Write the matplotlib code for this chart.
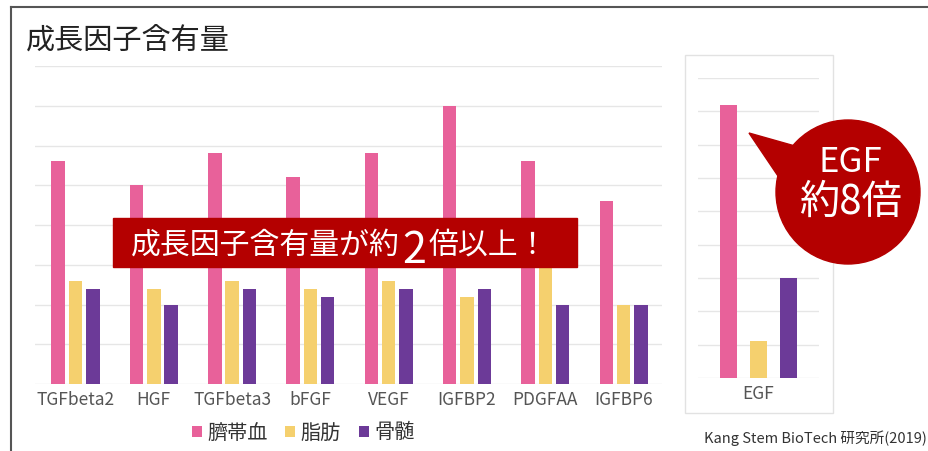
import matplotlib
matplotlib.use("Agg")
import matplotlib.pyplot as plt
import numpy as np
from matplotlib.patches import Rectangle, Circle, Polygon

plt.rcParams['font.family'] = ['Noto Sans CJK JP', 'DejaVu Sans']

factors = ['TGFbeta2', 'HGF', 'TGFbeta3', 'bFGF', 'VEGF', 'IGFBP2', 'PDGFAA', 'IGFBP6']
cord_blood = [5.6, 5.0, 5.8, 5.2, 5.8, 7.0, 5.6, 4.6]
fat = [2.6, 2.4, 2.6, 2.4, 2.6, 2.2, 3.4, 2.0]
bone_marrow = [2.4, 2.0, 2.4, 2.2, 2.4, 2.4, 2.0, 2.0]

egf_label = ['EGF']
egf_cord_blood = [8.2]
egf_fat = [1.1]
egf_bone_marrow = [3.0]

series_names = ['臍帯血', '脂肪', '骨髄']
colors = ['#E8619A', '#F5D06E', '#6C3A98']
red = '#B40000'

W, H = 929, 451
fig = plt.figure(figsize=(W / 100, H / 100), dpi=100)


def px_axes(x0, y0, x1, y1):
    return fig.add_axes([x0 / W, 1 - y1 / H, (x1 - x0) / W, (y1 - y0) / H])


def style(ax, ymax):
    ax.set_ylim(0, ymax)
    ax.set_yticks(range(ymax + 1))
    ax.yaxis.grid(True, color='#E6E6E6', lw=1)
    ax.set_axisbelow(True)
    ax.tick_params(axis='y', left=False, labelleft=False)
    ax.tick_params(axis='x', length=0, pad=5, labelsize=12.5, labelcolor='#555555')
    for s in ax.spines.values():
        s.set_visible(False)
    ax.patch.set_alpha(0)


# main chart
ax = px_axes(35, 66, 662, 384)
x = np.arange(len(factors))
step, bw = 0.221, 0.172
for i, (vals, name) in enumerate(zip([cord_blood, fat, bone_marrow], series_names)):
    ax.bar(x + (i - 1) * step, vals, bw, color=colors[i], label=name)
ax.set_xticks(x)
ax.set_xticklabels(factors)
ax.set_xlim(-0.517, 7.49)
style(ax, 8)

leg = ax.legend(loc='center', bbox_to_anchor=(303 / W, 1 - 433 / H), bbox_transform=fig.transFigure,
                ncol=3, frameon=False, fontsize=14.5, handlelength=0.5, handleheight=0.5,
                handletextpad=0.25, columnspacing=0.9)
for t in leg.get_texts():
    t.set_color('#333333')

# EGF panel
ax2 = px_axes(698, 78, 819, 378)
x2 = np.arange(len(egf_label))
for i, vals in enumerate([egf_cord_blood, egf_fat, egf_bone_marrow]):
    ax2.bar(x2 + (i - 1), vals, 0.55, color=colors[i])
ax2.set_xticks(x2)
ax2.set_xticklabels(egf_label)
ax2.set_xlim(-2.02, 2.02)
style(ax2, 9)

# decorations in pixel space
ov = fig.add_axes([0, 0, 1, 1], zorder=10)
ov.set_xlim(0, W)
ov.set_ylim(H, 0)
ov.axis('off')

ov.plot([11, 11], [7, H], color='#555555', lw=1.5)
ov.plot([11, W], [7, 7], color='#555555', lw=1.5)
ov.add_patch(Rectangle((685, 55), 148, 358, fill=False, ec='#E2E2E2', lw=1))

ov.text(26, 41, '成長因子含有量', fontsize=21, va='center', color='#222222')

ov.add_patch(Rectangle((113, 218), 464, 49, color=red))
ov.text(400, 254, '成長因子含有量が約', fontsize=21.5, color='white', ha='right', va='baseline')
ov.text(414, 263, '2', fontsize=31, color='white', ha='center', va='baseline')
ov.text(429, 254, '倍以上！', fontsize=21.5, color='white', ha='left', va='baseline')

ov.add_patch(Circle((848, 192), 72, color=red))
ov.add_patch(Polygon([(749, 133), (795, 146), (848, 192), (778, 176)], closed=True, color=red))
ov.text(850, 162, 'EGF', fontsize=25, color='white', ha='center', va='center')
ov.text(850, 202, '約8倍', fontsize=29, color='white', ha='center', va='center')

ov.text(927, 438, 'Kang Stem BioTech 研究所(2019)', fontsize=10.5, color='#333333',
        ha='right', va='center')

fig.savefig('out.png', dpi=100)
